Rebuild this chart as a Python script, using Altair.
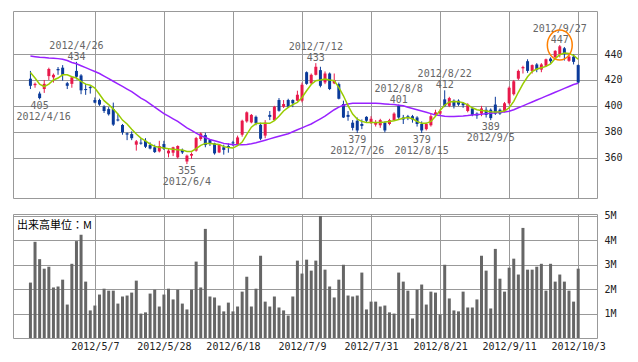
import altair as alt
import pandas as pd

# ---- daily OHLC (trading-day index 0 = 2012/4/12 ... 119 = 2012/10/3) ----
opens = [421, 416, 409.5, 413, 423, 422, 428.5, 429.5, 417.5, 417, 427, 423.5, 413, 414.5, 404.5, 404.5, 399.5, 397.5, 397.5, 389.5,
         385.2, 378.8, 378.2, 370, 371.6, 373, 369.7, 368, 364.8, 370.5, 363.3, 363.8, 360.2, 366, 357, 361.5, 365.4, 374.4, 377.4, 373.6,
         371, 364, 368, 369, 371.8, 370, 377.7, 388, 387.2, 391.5, 385.4, 377, 393, 389, 404.5, 399.3, 404.5, 404.5, 404, 404,
         426, 417.4, 424, 427.6, 418.1, 425, 417.4, 416.8, 401.4, 393, 387, 388.5, 386, 391.5, 387, 385.5, 385, 387, 386, 389,
         400, 391, 392, 392, 391, 386, 382, 385, 393, 394, 405, 400, 404, 404, 402, 396, 398, 394, 394, 397,
         397, 401, 397, 396, 402, 409, 421, 429, 434.5, 427, 432, 428, 431, 436.5, 437.5, 440, 444.5, 434.8, 438, 431.5]
highs = [427, 418, 411, 420, 429.5, 425, 430, 431.5, 418.5, 423, 434, 424.5, 417, 415.5, 406.5, 405.5, 400.5, 399, 402.5, 394,
         386, 379.5, 380.3, 373.6, 375, 375, 371.8, 370, 373, 373, 366.6, 368.4, 369.5, 367, 362.3, 364, 376, 379.5, 379.2, 374.1,
         371.5, 370.5, 370, 371, 373, 377, 389.3, 395.7, 393.7, 392.5, 387, 389, 396, 400, 406, 404.5, 405.5, 405, 411.7, 418,
         426.6, 425, 433, 430.2, 426.6, 425.8, 425, 418, 404, 396, 389, 391, 389.5, 392, 392, 389, 390, 388, 390, 395,
         401, 393, 393, 393, 392, 388, 387, 394, 397, 397.5, 412, 407, 405, 405, 403, 402, 399, 395, 400, 399,
         398, 407, 398, 403, 415, 420, 428, 431, 436, 432, 433, 433, 436.5, 437.5, 443, 447, 445.5, 440.5, 440, 432]
lows = [413, 414, 405, 410, 420, 418, 424, 419.5, 413, 414, 420.5, 409, 408.5, 409.5, 402, 400, 394.5, 392.5, 384.5, 388,
        377.7, 373.5, 373.5, 365.4, 370, 367.4, 366.4, 363.6, 364, 365.9, 360.2, 361.2, 359.2, 362.8, 355, 359, 364.6, 373, 368, 369,
        362.3, 363.5, 362.3, 363.8, 369, 369, 376.2, 387, 386.5, 385, 373.5, 375, 389, 388.5, 395.5, 398.3, 398.3, 399, 403.5, 402.7,
        416.3, 416.8, 423.5, 414.3, 416.8, 412.2, 416.8, 405, 390.6, 388.5, 381, 379, 382, 387, 386, 384, 383, 379.5, 385, 388.5,
        390, 386, 389, 387, 384, 379, 381, 384, 392, 393, 399, 399, 398, 400, 398.5, 395, 392, 390, 392, 391,
        389, 393, 393, 395, 401, 408, 420, 425, 425.5, 425, 426, 426, 430, 433, 436, 437.5, 435, 434, 432, 417.5]
closes = [415.5, 417, 406, 417, 428.5, 424, 427.5, 424, 415.5, 422, 422.5, 412, 412.2, 413.7, 402.5, 401, 396, 393.5, 385.5, 388.7,
          379.5, 377.8, 375, 372.6, 370.8, 368.4, 367, 364.3, 369, 366.9, 365.4, 368, 369, 364, 361.5, 362.8, 375.1, 378.7, 369.7, 371,
          363.3, 370, 366, 368, 371, 375.6, 388.5, 395, 393, 386.5, 374.6, 387, 391.5, 399.3, 396.2, 401.4, 399.3, 402, 408.6, 416.3,
          417, 424, 430.2, 415.5, 425, 413, 420, 405.5, 391, 391.5, 383, 381, 384.5, 388.5, 390, 387, 389, 381, 389, 394,
          391, 389.5, 390.5, 389.5, 386, 381, 386, 392, 395, 396, 400, 406, 400, 401, 400.5, 401, 393, 392.5, 398, 393,
          390.5, 394, 394, 402, 414, 419, 427, 430, 427, 431.5, 428, 432, 436, 434.5, 442.5, 446, 440, 438.1, 434, 418]

# ---- moving averages ----
ma_short = [425.8, 421.5, 416.8, 414.8, 416.8, 420, 421.5, 424, 424, 422.5, 421.5, 419, 416.8, 416, 413.7, 409, 404, 401, 397.5, 393.7,
            389, 386, 382, 378.2, 375.1, 373, 370.5, 368.7, 368, 367.4, 366.9, 366.4, 366.1, 365.9, 364.8, 364.8, 367, 369.5, 371, 371,
            370.5, 370.2, 368.5, 367.8, 367.4, 369.2, 372, 378, 383.5, 386.3, 386.5, 386.5, 386.5, 388.5, 392, 396, 398.8, 400.9, 402.7, 406.5,
            411.7, 416.5, 419.4, 420, 420.7, 420, 419.4, 414.3, 407.8, 400.1, 393.7, 389.8, 388, 387.2, 387.2, 387.2, 387.2, 387.5, 388, 388.5,
            389.5, 390.5, 391, 390, 388, 386.5, 386.5, 388, 392, 396.5, 400.5, 403, 403.4, 403.2, 402.5, 400.8, 398.5, 397, 396.5, 396,
            395.5, 395.3, 395.5, 396, 398.5, 403.5, 410.5, 417, 422.5, 426.5, 428.5, 429.5, 430.5, 432.5, 436.5, 439.5, 440.8, 440.5, 439, 436]
ma_long = [438.5, 438, 437.5, 437.3, 437, 436.8, 436.5, 436, 435, 433.5, 432.5, 431, 429.5, 428, 426.5, 425, 423, 421, 419, 417,
           415, 413, 411, 408.5, 406, 404, 401.5, 399, 396.5, 394, 392, 390, 388, 385.5, 383, 381, 379, 377, 375.5, 374,
           373, 372, 371, 370.5, 370, 370, 370, 370.2, 370.8, 371.5, 372.5, 373.5, 374.5, 375.5, 376.5, 377.5, 378.5, 380, 381.5, 383,
           384.5, 386, 388, 390, 392, 394.5, 397, 399, 400.5, 401.5, 402, 402, 402, 402, 402, 402, 401.8, 401.5, 401.2, 401,
           400.5, 400, 399, 398, 397, 396, 395, 394, 393, 392.5, 392, 391.8, 391.8, 392, 392.2, 392.5, 393, 393.3, 393.6, 394,
           394.3, 394.6, 395, 395.3, 395.8, 397, 398.5, 400, 401.5, 403, 404.5, 406, 407.5, 409, 410.5, 412, 413.5, 415, 416.5, 417.5]

# ---- volume (M shares) ----
volumes = [2.27, 3.94, 3.23, 2.84, 2.92, 2.07, 2.11, 2.39, 1.37, 3.04, 3.97, 4.23, 2.31, 1.13, 1.33, 1.78, 2.02, 1.94, 1.94, 1.41,
           1.70, 1.74, 1.86, 2.35, 1.00, 1.05, 1.82, 1.98, 1.29, 1.78, 2.02, 1.58, 1.98, 1.41, 1.17, 1.98, 3.13, 2.07, 4.47, 1.70,
           1.66, 1.33, 1.09, 1.45, 1.09, 1.29, 1.90, 2.51, 1.29, 2.02, 3.37, 1.49, 1.29, 1.70, 1.25, 1.13, 0.92, 1.70, 3.17, 2.64,
           3.21, 2.76, 3.17, 5.00, 2.80, 2.11, 1.66, 2.39, 3.00, 1.74, 1.70, 1.74, 2.68, 1.17, 1.49, 1.49, 1.29, 1.33, 1.05, 1.00,
           2.68, 2.31, 1.94, 0.80, 1.98, 2.19, 1.37, 1.90, 1.86, 0.96, 3.00, 1.62, 1.13, 1.09, 1.90, 1.25, 1.25, 1.58, 3.37, 2.76,
           1.21, 3.65, 2.43, 1.90, 2.88, 3.25, 2.60, 4.51, 2.80, 2.80, 2.92, 3.04, 1.94, 3.04, 2.31, 2.60, 2.31, 1.94, 1.49, 2.84]

# ---- axis ticks ----
tick_idx = [14, 29, 44, 59, 74, 89, 104, 119]
tick_labels = ["2012/5/7", "2012/5/28", "2012/6/18", "2012/7/9", "2012/7/31", "2012/8/21", "2012/9/11", "2012/10/3"]
price_ticks = [360, 380, 400, 420, 440]
vol_ticks = [1, 2, 3, 4, 5]

# ---- annotations ----
hi_idx = [10, 62, 80, 90, 115]
hi_val = [434, 433, 401, 412, 447]
hi_date = ["2012/4/26", "2012/7/12", "2012/8/8", "2012/8/22", "2012/9/27"]
lo_idx = [2, 34, 71, 85, 100]
lo_val = [405, 355, 379, 379, 389]
lo_date = ["2012/4/16", "2012/6/4", "2012/7/26", "2012/8/15", "2012/9/5"]
vol_unit_label = "出来高単位：M"

RED = "#e8194b"
BLUE = "#0a3a9a"
GREEN = "#99cc00"
PURPLE = "#9922ff"
ORANGE = "#ff8000"
GRID = "#999999"
MONO = "DejaVu Sans Mono"

n = len(opens)
df = pd.DataFrame({
    "i": list(range(n)), "open": opens, "high": highs, "low": lows, "close": closes,
    "ma_s": ma_short, "ma_l": ma_long, "vol": volumes,
})
hi_df = pd.DataFrame({"i": hi_idx, "val": hi_val, "num": [str(v) for v in hi_val], "date": hi_date})
lo_df = pd.DataFrame({"i": lo_idx, "val": lo_val, "num": [str(v) for v in lo_val], "date": lo_date})
peak_df = hi_df[hi_df["val"] == hi_df["val"].max()]
unit_df = pd.DataFrame({"t": [vol_unit_label]})

label_expr = ("[" + ",".join("'%s'" % s for s in tick_labels) + "][indexof(["
              + ",".join(str(t) for t in tick_idx) + "], datum.value)]")

x_scale = alt.Scale(domain=[-2.7, 122.0], nice=False, zero=False)
x_top_axis = alt.Axis(values=tick_idx, grid=True, labels=False, ticks=False, domain=False, title=None,
                      minExtent=0, maxExtent=0, offset=0)
y_scale = alt.Scale(domain=[328.8, 473.3], nice=False, zero=False)
y_top_axis = alt.Axis(orient="right", values=price_ticks, grid=True, ticks=False, domain=False,
                      labelPadding=7, title=None)


def X():
    return alt.X("i:Q", scale=x_scale, axis=x_top_axis, title=None)


def Y(field):
    return alt.Y(field, scale=y_scale, axis=y_top_axis, title=None)


color_cond = alt.condition("datum.close >= datum.open", alt.value(RED), alt.value(BLUE))

base = alt.Chart(df)
wicks = base.mark_rule(strokeWidth=1).encode(x=X(), y=Y("low:Q"), y2="high:Q", color=color_cond)
bodies = base.mark_bar(width=3).encode(x=X(), y=Y("open:Q"), y2="close:Q", color=color_cond)
line_s = base.mark_line(color=GREEN, strokeWidth=1.5).encode(x=X(), y=Y("ma_s:Q"))
line_l = base.mark_line(color=PURPLE, strokeWidth=1.5).encode(x=X(), y=Y("ma_l:Q"))

txt = dict(font=MONO, fontSize=10, color="#666666", baseline="alphabetic")
hi_num = alt.Chart(hi_df).mark_text(dy=-2, **txt).encode(x=X(), y=Y("val:Q"), text="num:N")
hi_dt = alt.Chart(hi_df).mark_text(dy=-13, **txt).encode(x=X(), y=Y("val:Q"), text="date:N")
lo_num = alt.Chart(lo_df).mark_text(dy=10, **txt).encode(x=X(), y=Y("val:Q"), text="num:N")
lo_dt_first = alt.Chart(lo_df).transform_filter(alt.datum.i == lo_idx[0]).mark_text(dy=20.5, dx=4, **txt).encode(
    x=X(), y=Y("val:Q"), text="date:N")
lo_dt_rest = alt.Chart(lo_df).transform_filter(alt.datum.i != lo_idx[0]).mark_text(dy=20.5, **txt).encode(
    x=X(), y=Y("val:Q"), text="date:N")

ellipse = "M -0.83 0 A 0.83 1 0 1 1 0.83 0 A 0.83 1 0 1 1 -0.83 0 Z"
circle = alt.Chart(peak_df).mark_point(shape=ellipse, size=900, filled=False, color=ORANGE,
                                       strokeWidth=1.5, dx=3, dy=7, opacity=1).encode(x=X(), y=Y("val:Q"))

top = alt.layer(wicks, bodies, line_l, line_s, hi_num, hi_dt, lo_num, lo_dt_first, lo_dt_rest, circle
                ).properties(width=584, height=187)

x_bot = alt.X("i:Q", scale=x_scale, title=None,
              axis=alt.Axis(values=tick_idx, grid=True, ticks=False, domain=False, title=None,
                            labelExpr=label_expr, labelPadding=3, labelFlush=False, labelOverlap=False,
                            labelColor="#222222"))
vol_bars = base.mark_bar(width=3, color="#666666").encode(
    x=x_bot,
    y=alt.Y("vol:Q", scale=alt.Scale(domain=[0, 5.08], nice=False, zero=True), title=None,
            axis=alt.Axis(orient="right", values=vol_ticks, grid=True, ticks=False, domain=False,
                          labelExpr="datum.value + 'M'", labelPadding=7, title=None)),
)
unit_text = alt.Chart(unit_df).mark_text(align="left", baseline="alphabetic", font="Noto Sans CJK JP",
                                         fontSize=11, color="#000000").encode(
    x=alt.value(4), y=alt.value(15), text="t:N")
bottom = alt.layer(vol_bars, unit_text).properties(width=584, height=124)

chart = alt.vconcat(top, bottom, spacing=11).properties(
    padding={"left": 4, "top": 2, "right": 5, "bottom": 5}
).configure_view(stroke=GRID, strokeWidth=1).configure_axis(
    gridColor=GRID, gridWidth=1, gridOpacity=1, labelFont=MONO, labelFontSize=10, labelColor="#222222"
)

chart.save("out.html", embed_options={"renderer": "svg", "actions": False})
